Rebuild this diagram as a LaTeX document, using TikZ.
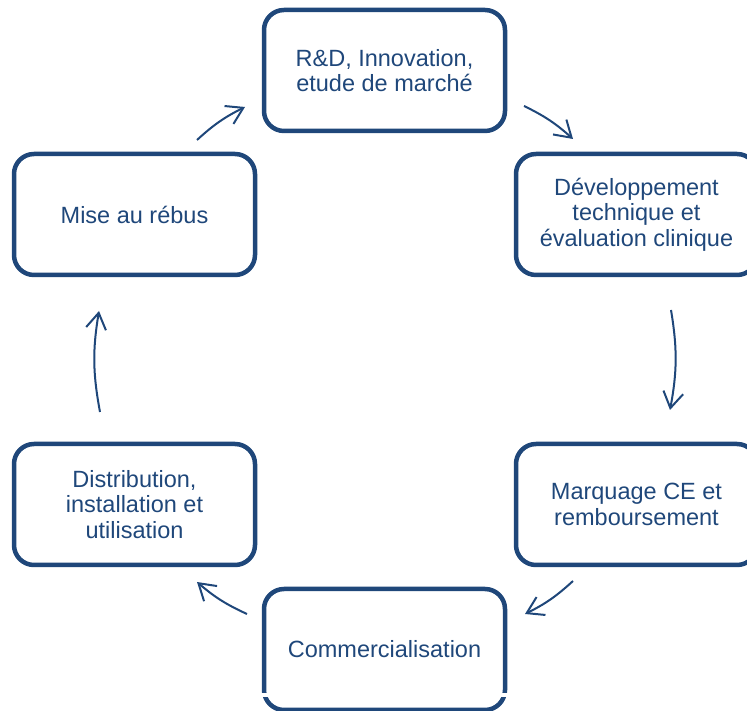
\documentclass[tikz,border=0pt]{standalone}
\usepackage{fontspec}
\setmainfont{Liberation Sans}
\usetikzlibrary{arrows.meta}
\definecolor{dblue}{RGB}{31,71,122}
\tikzset{
  stagebox/.style={draw=dblue, line width=4.5pt, rounded corners=20pt,
    minimum width=241pt, minimum height=121pt, inner sep=0pt,
    align=center, text=dblue, font=\fontsize{23.5}{25.5}\selectfont},
  cyclearrow/.style={draw=dblue, line width=2pt,
    -{Straight Barb[length=16pt, width=20pt, line width=2pt]}}
}
\begin{document}
\begin{tikzpicture}[x=1pt, y=1pt]
\useasboundingbox (0,0) rectangle (747,711);
\clip (0,0) rectangle (747,711);
\node[stagebox] (rd)   at (384.5,640.5) {R\&D, Innovation,\\etude de marché};
\node[stagebox] (dev)  at (636.5,496.5) {Développement\\technique et\\évaluation clinique};
\node[stagebox] (marq) at (636.5,206.5) {Marquage CE et\\remboursement};
\node[stagebox] (comm) at (384.5,61.5)  {Commercialisation};
\node[stagebox] (dist) at (134.5,206.5) {Distribution,\\installation et\\utilisation};
\node[stagebox] (mise) at (134.5,496.5) {Mise au rébus};
\fill[white] (255,14) rectangle (515,17.5);
\coordinate (a1s) at (197,571); \coordinate (a1e) at (245,604);
\coordinate (a2s) at (524,605); \coordinate (a2e) at (573,572);
\coordinate (a3s) at (671,401); \coordinate (a3e) at (670,301);
\coordinate (a4s) at (573,130); \coordinate (a4e) at (525,97);
\coordinate (a5s) at (247,97);  \coordinate (a5e) at (197,129);
\coordinate (a6s) at (100,299); \coordinate (a6e) at (99,400);
\draw[cyclearrow] (a1s) to[bend left=8] (a1e);
\draw[cyclearrow] (a2s) to[bend left=8] (a2e);
\draw[cyclearrow] (a3s) to[bend left=10] (a3e);
\draw[cyclearrow] (a4s) to[bend left=8] (a4e);
\draw[cyclearrow] (a5s) to[bend left=8] (a5e);
\draw[cyclearrow] (a6s) to[bend left=10] (a6e);
\end{tikzpicture}
\end{document}
